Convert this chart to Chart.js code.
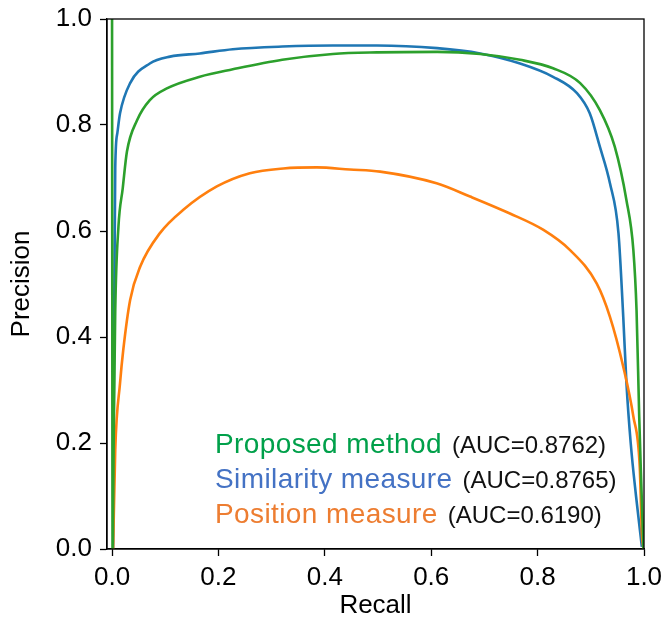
<!DOCTYPE html>
<html>
<head>
<meta charset="utf-8">
<script src="https://cdn.jsdelivr.net/npm/chart.js@4.4.1/dist/chart.umd.min.js"></script>
<style>
  html, body { margin: 0; padding: 0; background: #fff; }
  #wrap { width: 666px; height: 622px; }
</style>
</head>
<body>
<div id="wrap"><canvas id="grafico" width="666" height="622"></canvas></div>
<script>
// Proposed method (green)
const proposedRecall = [0, 0.001, 0.003, 0.006, 0.012, 0.02, 0.028, 0.047, 0.071, 0.103, 0.165, 0.227, 0.32, 0.415, 0.498, 0.611, 0.692, 0.767, 0.829, 0.88, 0.917, 0.945, 0.967, 0.98, 0.986, 0.991, 0.994, 0.999];
const proposedPrecision = [1.0, 0.0, 0.2, 0.45, 0.608, 0.68, 0.75, 0.809, 0.847, 0.869, 0.891, 0.905, 0.923, 0.934, 0.937, 0.938, 0.934, 0.923, 0.907, 0.879, 0.828, 0.759, 0.658, 0.564, 0.45, 0.25, 0.15, 0.0];

// Similarity measure (blue)
const similarityRecall = [0.002, 0.004, 0.006, 0.01, 0.015, 0.034, 0.071, 0.109, 0.165, 0.227, 0.32, 0.415, 0.498, 0.611, 0.692, 0.767, 0.829, 0.874, 0.898, 0.917, 0.936, 0.952, 0.961, 0.967, 0.975, 0.985, 0.996];
const similarityPrecision = [0.0, 0.45, 0.72, 0.785, 0.822, 0.879, 0.916, 0.929, 0.935, 0.943, 0.948, 0.95, 0.95, 0.945, 0.935, 0.916, 0.891, 0.86, 0.822, 0.759, 0.69, 0.596, 0.438, 0.313, 0.2, 0.1, 0.004];

// Position measure (orange)
const positionRecall = [0.002, 0.006, 0.015, 0.021, 0.034, 0.053, 0.09, 0.134, 0.197, 0.259, 0.322, 0.385, 0.447, 0.504, 0.61, 0.673, 0.748, 0.811, 0.861, 0.911, 0.936, 0.961, 0.98, 0.992, 0.996, 0.999];
const positionPrecision = [0.0, 0.187, 0.313, 0.375, 0.47, 0.533, 0.596, 0.64, 0.684, 0.709, 0.718, 0.72, 0.716, 0.712, 0.69, 0.665, 0.633, 0.602, 0.564, 0.501, 0.438, 0.344, 0.25, 0.155, 0.03, 0.0];

const tickValues = [0, 0.2, 0.4, 0.6, 0.8, 1.0];

const legendLabels = ["Proposed method", "Similarity measure", "Position measure"];
const legendAuc = ["(AUC=0.8762)", "(AUC=0.8765)", "(AUC=0.6190)"];
const legendColors = ["#00a04a", "#4472c4", "#ed7d31"];

function toPoints(xs, ys) {
    return xs.map((x, i) => ({ x: x, y: ys[i] }));
}

const fonte = "'Liberation Sans', Arial, sans-serif";

// moldura (spines de cima e da direita) + legenda em texto
const extras = {
    id: 'extras',
    afterDraw(chart) {
        const ctx = chart.ctx;
        const a = chart.chartArea;
        ctx.save();
        ctx.strokeStyle = '#000';
        ctx.lineWidth = 1.3;
        ctx.strokeRect(a.left, a.top, a.right - a.left, a.bottom - a.top);

        const x0 = 215;
        const baselines = [453, 488, 523];
        ctx.textBaseline = 'alphabetic';
        ctx.textAlign = 'left';
        legendLabels.forEach((lab, i) => {
            ctx.font = "28px " + fonte;
            ctx.letterSpacing = '0.4px';
            ctx.fillStyle = legendColors[i];
            ctx.fillText(lab, x0, baselines[i]);
            const w = ctx.measureText(lab).width;
            ctx.letterSpacing = '0px';
            ctx.font = "24px " + fonte;
            ctx.fillStyle = '#111';
            ctx.fillText(legendAuc[i], x0 + w + 10, baselines[i]);
        });
        ctx.restore();
    }
};

const eixo = (titulo, min, max) => ({
    type: 'linear',
    min: min,
    max: max,
    afterBuildTicks: s => { s.ticks = tickValues.map(v => ({ value: v })); },
    ticks: {
        color: '#000',
        font: { family: fonte, size: 26 },
        padding: 6,
        callback: v => Number(v).toFixed(1),
        maxRotation: 0
    },
    grid: {
        display: true,
        drawOnChartArea: false,
        drawTicks: true,
        tickLength: 7,
        tickWidth: 1.3,
        tickColor: '#000'
    },
    border: { display: true, color: '#000', width: 1.3 },
    title: {
        display: true,
        text: titulo,
        color: '#000',
        font: { family: fonte, size: 26 },
        padding: 0
    }
});

// sem folga extra para os rótulos nas pontas: a área do gráfico fica onde o layout manda
function semFolga(s) {
    s.paddingTop = 0; s.paddingBottom = 0; s.paddingLeft = 0; s.paddingRight = 0;
}

const xScale = eixo('Recall', -0.0095, 1.0);
xScale.afterFit = s => { s.height = 73; semFolga(s); };
const yScale = eixo('Precision', 0, 1.0);
yScale.afterFit = s => { s.width = 107; semFolga(s); };
yScale.ticks.padding = 8;
yScale.title.padding = { top: 6, bottom: 0 };
xScale.title.padding = { top: 0, bottom: 1 };

const grafico = new Chart(document.getElementById("grafico"), {
    type: 'scatter',
    data: {
        datasets: [
            {
                label: 'Proposed method',
                data: toPoints(proposedRecall, proposedPrecision),
                borderColor: '#2ca02c'
            },
            {
                label: 'Position measure',
                data: toPoints(positionRecall, positionPrecision),
                borderColor: '#ff7f0e'
            },
            {
                label: 'Similarity measure',
                data: toPoints(similarityRecall, similarityPrecision),
                borderColor: '#1f77b4'
            }
        ].map(d => Object.assign(d, {
            showLine: true,
            pointRadius: 0,
            borderWidth: 2.6,
            cubicInterpolationMode: 'monotone',
            fill: false
        }))
    },
    options: {
        responsive: false,
        animation: false,
        devicePixelRatio: 1,
        layout: { padding: { left: 0, right: 22, top: 19, bottom: 0 } },
        plugins: {
            legend: { display: false },
            tooltip: { enabled: false }
        },
        scales: { x: xScale, y: yScale }
    },
    plugins: [extras]
});
</script>
</body>
</html>
